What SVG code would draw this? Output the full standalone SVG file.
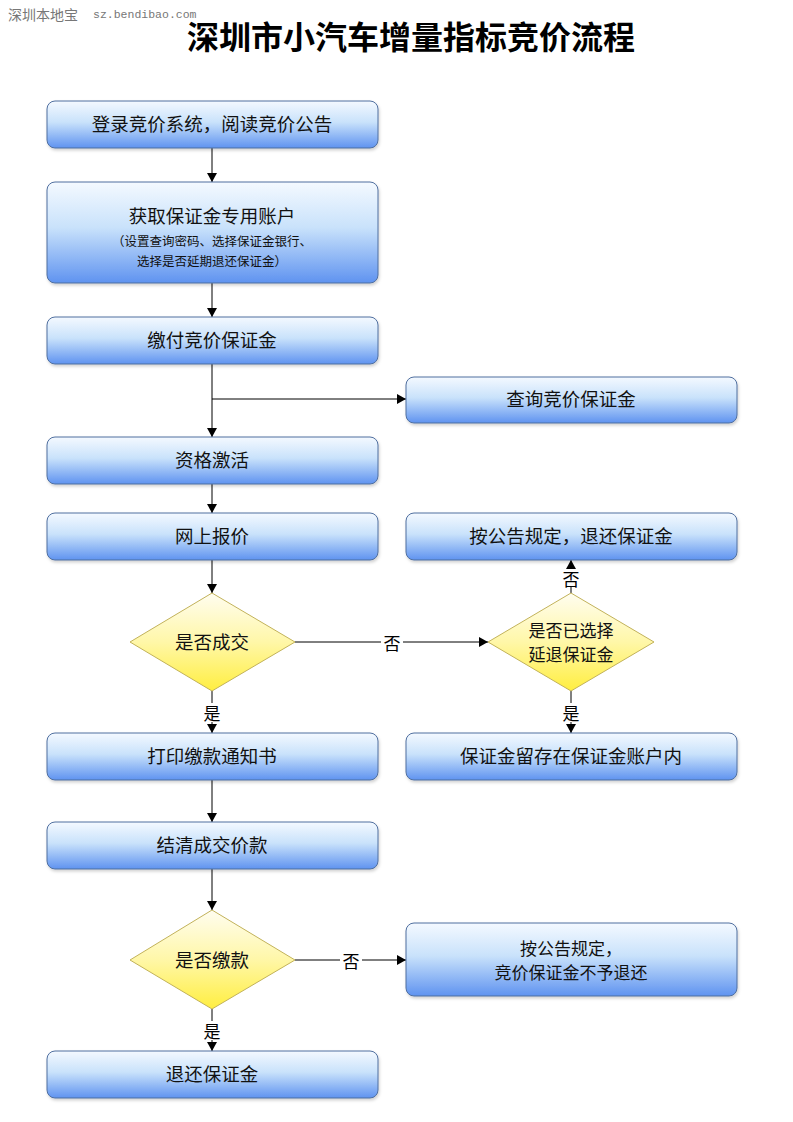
<svg xmlns="http://www.w3.org/2000/svg" width="793" height="1122" viewBox="0 0 793 1122">
<defs>
<linearGradient id="gb" x1="0" y1="0" x2="0" y2="1">
<stop offset="0" stop-color="#f4f9ff"/>
<stop offset="0.45" stop-color="#c9e2fb"/>
<stop offset="1" stop-color="#5f93f0"/>
</linearGradient>
<linearGradient id="gy" x1="0" y1="0" x2="0" y2="1">
<stop offset="0" stop-color="#fffdf0"/>
<stop offset="0.5" stop-color="#fff7a8"/>
<stop offset="1" stop-color="#ffee40"/>
</linearGradient>
<marker id="ar" markerWidth="9" markerHeight="10" refX="9" refY="5" orient="auto" markerUnits="userSpaceOnUse">
<path d="M0,0 L9,5 L0,10 z" fill="#000"/>
</marker>
<filter id="sh" x="-5%" y="-10%" width="110%" height="130%">
<feDropShadow dx="1" dy="2" stdDeviation="1.5" flood-color="#000" flood-opacity="0.18"/>
</filter>
</defs>
<style>
.box{fill:url(#gb);stroke:#4f6f9f;stroke-width:1;filter:url(#sh)}
.dia{fill:url(#gy);stroke:#c2b25a;stroke-width:1}
.t{font-family:"Noto Sans CJK SC","Liberation Sans",sans-serif;font-size:18.5px;fill:#111;text-anchor:middle;dominant-baseline:central}
.d{font-family:"Noto Sans CJK SC","Liberation Sans",sans-serif;font-size:17px;fill:#111;text-anchor:middle;dominant-baseline:central}
.s{font-family:"Noto Sans CJK SC","Liberation Sans",sans-serif;font-size:12.5px;fill:#111;text-anchor:middle;dominant-baseline:central}
.c{stroke:#000;stroke-width:1;fill:none}
.lb{font-family:"Noto Sans CJK SC",sans-serif;font-size:17px;fill:#000;text-anchor:middle;dominant-baseline:central}
</style>
<rect width="793" height="1122" fill="#fff"/>
<text x="8" y="14" font-family="Noto Sans CJK SC, sans-serif" font-size="14" fill="#777" dominant-baseline="central">深圳本地宝</text>
<text x="93" y="14" font-family="Liberation Mono, monospace" font-size="11.5" fill="#777" dominant-baseline="central">sz.bendibao.com</text>
<text x="411" y="35" font-family="Noto Sans CJK SC, sans-serif" font-size="32" font-weight="bold" fill="#000" text-anchor="middle" dominant-baseline="central">深圳市小汽车增量指标竞价流程</text>

<g id="connectors">
<line class="c" x1="212" y1="148" x2="212" y2="182" marker-end="url(#ar)"/>
<line class="c" x1="212" y1="283" x2="212" y2="317" marker-end="url(#ar)"/>
<line class="c" x1="212" y1="364" x2="212" y2="437" marker-end="url(#ar)"/>
<line class="c" x1="212" y1="399" x2="406" y2="399" marker-end="url(#ar)"/>
<line class="c" x1="212" y1="484" x2="212" y2="513" marker-end="url(#ar)"/>
<line class="c" x1="212" y1="560" x2="212" y2="593" marker-end="url(#ar)"/>
<line class="c" x1="212" y1="691" x2="212" y2="703"/>
<line class="c" x1="212" y1="722" x2="212" y2="733" marker-end="url(#ar)"/>
<text class="lb" x="212" y="712">是</text>
<line class="c" x1="295" y1="642" x2="381" y2="642"/>
<line class="c" x1="403" y1="642" x2="488" y2="642" marker-end="url(#ar)"/>
<text class="lb" x="392" y="642">否</text>
<line class="c" x1="571" y1="593" x2="571" y2="587"/>
<line class="c" x1="571" y1="569" x2="571" y2="560" marker-end="url(#ar)"/>
<text class="lb" x="571" y="578">否</text>
<line class="c" x1="571" y1="691" x2="571" y2="703"/>
<line class="c" x1="571" y1="722" x2="571" y2="733" marker-end="url(#ar)"/>
<text class="lb" x="571" y="712">是</text>
<line class="c" x1="212" y1="780" x2="212" y2="822" marker-end="url(#ar)"/>
<line class="c" x1="212" y1="869" x2="212" y2="910" marker-end="url(#ar)"/>
<line class="c" x1="212" y1="1009" x2="212" y2="1021"/>
<line class="c" x1="212" y1="1040" x2="212" y2="1051" marker-end="url(#ar)"/>
<text class="lb" x="212" y="1030">是</text>
<line class="c" x1="295" y1="960" x2="340" y2="960"/>
<line class="c" x1="362" y1="960" x2="406" y2="960" marker-end="url(#ar)"/>
<text class="lb" x="351" y="960">否</text>
</g>

<g id="n1"><rect class="box" x="47" y="101" width="331" height="47" rx="8"/><text class="t" x="212" y="123">登录竞价系统，阅读竞价公告</text></g>
<g id="n2"><rect class="box" x="47" y="182" width="331" height="101" rx="8"/><text class="t" x="212" y="215">获取保证金专用账户</text><text class="s" x="212" y="240">（设置查询密码、选择保证金银行、</text><text class="s" x="212" y="260">选择是否延期退还保证金）</text></g>
<g id="n3"><rect class="box" x="47" y="317" width="331" height="47" rx="8"/><text class="t" x="212" y="339">缴付竞价保证金</text></g>
<g id="n4"><rect class="box" x="406" y="377" width="331" height="46" rx="8"/><text class="t" x="571" y="398">查询竞价保证金</text></g>
<g id="n5"><rect class="box" x="47" y="437" width="331" height="47" rx="8"/><text class="t" x="212" y="459">资格激活</text></g>
<g id="n6"><rect class="box" x="47" y="513" width="331" height="47" rx="8"/><text class="t" x="212" y="535">网上报价</text></g>
<g id="n7"><rect class="box" x="406" y="513" width="331" height="47" rx="8"/><text class="t" x="571" y="535">按公告规定，退还保证金</text></g>
<g id="d1"><polygon class="dia" points="212,593 295,642 212,691 130,642"/><text class="t" x="212" y="641">是否成交</text></g>
<g id="d2"><polygon class="dia" points="571,593 654,642 571,691 488,642"/><text class="d" x="571" y="629">是否已选择</text><text class="d" x="571" y="653">延退保证金</text></g>
<g id="n8"><rect class="box" x="47" y="733" width="331" height="47" rx="8"/><text class="t" x="212" y="755">打印缴款通知书</text></g>
<g id="n9"><rect class="box" x="406" y="733" width="331" height="47" rx="8"/><text class="t" x="571" y="755">保证金留存在保证金账户内</text></g>
<g id="n10"><rect class="box" x="47" y="822" width="331" height="47" rx="8"/><text class="t" x="212" y="844">结清成交价款</text></g>
<g id="d3"><polygon class="dia" points="212,910 295,960 212,1009 130,960"/><text class="t" x="212" y="959">是否缴款</text></g>
<g id="n11"><rect class="box" x="406" y="923" width="331" height="73" rx="8"/><text class="d" x="571" y="947">按公告规定，</text><text class="d" x="571" y="971">竞价保证金不予退还</text></g>
<g id="n12"><rect class="box" x="47" y="1051" width="331" height="47" rx="8"/><text class="t" x="212" y="1073">退还保证金</text></g>
</svg>
